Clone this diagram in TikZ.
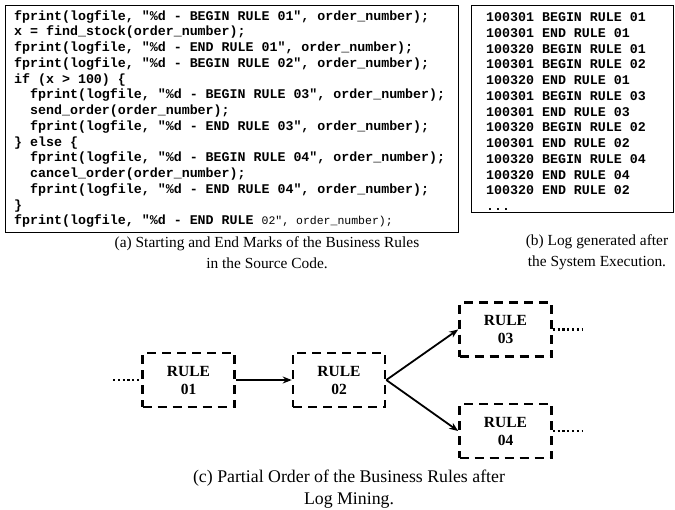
\documentclass[tikz,border=0pt]{standalone}
\usepackage{fontspec}
\setmainfont{Liberation Serif}
\setmonofont{Liberation Mono}
\usetikzlibrary{arrows.meta}
\tikzset{
  rulebox/.style={draw, line width=2.6pt, dash pattern=on 9pt off 6pt, minimum width=92pt, minimum height=54pt, inner sep=0pt, align=center, font=\bfseries\fontsize{15.5}{18}\selectfont},
  codetext/.style={anchor=north west, inner sep=0pt, align=left, font=\ttfamily\bfseries\fontsize{13.3}{15.75}\selectfont},
  capt/.style={align=center, inner sep=0pt, font=\fontsize{15.4}{21}\selectfont},
  flow/.style={-{Stealth[length=9pt,width=7pt]}, line width=1.8pt},
  trail/.style={line width=2.4pt, dash pattern=on 2.2pt off 2.6pt},
}
\newcommand{\ind}{\phantom{xx}}
\begin{document}
\begin{tikzpicture}[x=1pt,y=-1pt]
\useasboundingbox (0,0) rectangle (675,509);
% frames
\draw[line width=1pt] (5,5) rectangle (458,232);
\draw[line width=1pt] (471,5) rectangle (673,212);
% source code
\node[codetext] (code) at (14,10) {fprint(logfile, "\%d - BEGIN RULE 01", order\_number);\\
x = find\_stock(order\_number);\\
fprint(logfile, "\%d - END RULE 01", order\_number);\\
fprint(logfile, "\%d - BEGIN RULE 02", order\_number);\\
if (x > 100) \{\\
\ind fprint(logfile, "\%d - BEGIN RULE 03", order\_number);\\
\ind send\_order(order\_number);\\
\ind fprint(logfile, "\%d - END RULE 03", order\_number);\\
\} else \{\\
\ind fprint(logfile, "\%d - BEGIN RULE 04", order\_number);\\
\ind cancel\_order(order\_number);\\
\ind fprint(logfile, "\%d - END RULE 04", order\_number);\\
\}\\
fprint(logfile, "\%d - END RULE {\mdseries\fontsize{11.5}{15.75}\selectfont 02", order\_number);}};
% log
\node[codetext] (log) at (486,12.5) {100301 BEGIN RULE 01\\ 100301 END RULE 01\\ 100320 BEGIN RULE 01\\ 100301 BEGIN RULE 02\\ 100320 END RULE 01\\ 100301 BEGIN RULE 03\\ 100301 END RULE 03\\ 100320 BEGIN RULE 02\\ 100301 END RULE 02\\ 100320 BEGIN RULE 04\\ 100320 END RULE 04\\ 100320 END RULE 02\\ ...};
% captions
\node[capt] (capa) at (267,252.5) {(a) Starting and End Marks of the Business Rules\\ in the Source Code.};
\node[capt] (capb) at (597,252.5) {(b) Log generated after\\ the System Execution.};
\node[capt, font=\fontsize{17.8}{22}\selectfont] (capc) at (349,489) {(c) Partial Order of the Business Rules after\\ Log Mining.};
% partial order
\node[rulebox] (r1) at (188.5,380) {RULE\\01};
\node[rulebox] (r2) at (339,380) {RULE\\02};
\node[rulebox] (r3) at (505.5,329.5) {RULE\\03};
\node[rulebox] (r4) at (505.5,431) {RULE\\04};
\coordinate (in1) at (113,380);
\coordinate (out3) at (583,329.5);
\coordinate (out4) at (583,431);
\draw[flow] (r1.east) -- (r2.west);
\draw[flow] (r2.east) -- (r3.west);
\draw[flow] (r2.east) -- (r4.west);
\draw[trail] (in1) -- (r1.west);
\draw[trail] (r3.east) -- (out3);
\draw[trail] (r4.east) -- (out4);
\end{tikzpicture}
\end{document}
